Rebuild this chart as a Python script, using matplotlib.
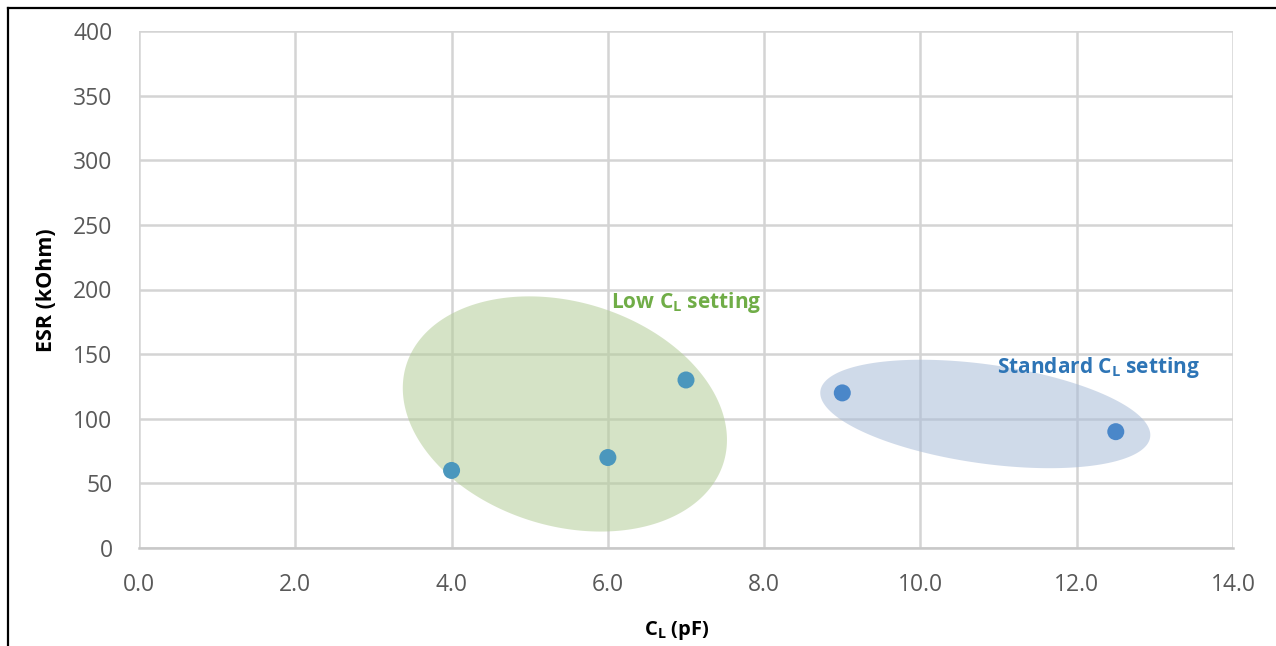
import numpy as np
import matplotlib
matplotlib.use("Agg")
import matplotlib.pyplot as plt
from matplotlib.patches import Polygon
from matplotlib.lines import Line2D

plt.rcParams['font.family'] = ['Open Sans', 'DejaVu Sans']
plt.rcParams['mathtext.fontset'] = 'custom'
plt.rcParams['mathtext.bf'] = 'Open Sans:bold'
plt.rcParams['mathtext.rm'] = 'Open Sans'

# ---- data ----
low_cl_x = [4.0, 6.0, 7.0]
low_cl_y = [60, 70, 130]
std_cl_x = [9.0, 12.5]
std_cl_y = [120, 90]
x_ticks = [0, 2, 4, 6, 8, 10, 12, 14]
y_ticks = [0, 50, 100, 150, 200, 250, 300, 350, 400]
x_label = r"C$_\mathbf{L}$ (pF)"
y_label = "ESR (kOhm)"
low_label = r"Low C$_\mathbf{L}$ setting"
std_label = r"Standard C$_\mathbf{L}$ setting"

W, H = 1276, 646
fig = plt.figure(figsize=(W / 100, H / 100), dpi=100)
left, right, bottom, top = 139 / W, 1233 / W, (H - 548) / H, (H - 31) / H
ax = fig.add_axes([left, bottom, right - left, top - bottom])
ax.set_xlim(0, 14)
ax.set_ylim(0, 400)
ax.set_xticks(x_ticks)
ax.set_yticks(y_ticks)
ax.set_xticklabels([f"{v:.1f}" for v in x_ticks])
ax.set_yticklabels([f"{v}" for v in y_ticks])
ax.tick_params(length=0, labelsize=16.5, colors='#595959')
ax.tick_params(axis='x', pad=18)
ax.tick_params(axis='y', pad=19)
ax.grid(True, color='#d4d4d4', linewidth=1.8, zorder=0)
ax.set_axisbelow(True)
for s in ['top', 'right', 'left']:
    ax.spines[s].set_visible(False)
ax.spines['bottom'].set_color('#c8c8c8')
ax.spines['bottom'].set_linewidth(1.8)

# pixel scale of data units
sx = (right - left) * W / 14.0
sy = (top - bottom) * H / 400.0


def ellipse_poly(cx, cy, a_px, b_px, angle_deg, **kw):
    t = np.linspace(0, 2 * np.pi, 300)
    th = np.deg2rad(angle_deg)
    ex = a_px * np.cos(t)
    ey = b_px * np.sin(t)
    px = ex * np.cos(th) - ey * np.sin(th)
    py = ex * np.sin(th) + ey * np.cos(th)
    pts = np.column_stack([cx + px / sx, cy + py / sy])
    return Polygon(pts, closed=True, **kw)


ax.add_patch(ellipse_poly(5.45, 103.7, 166, 112, -17, facecolor='#b4cd98',
                          alpha=0.55, edgecolor='none', zorder=2))
ax.add_patch(ellipse_poly(10.83, 103.7, 166.5, 49.5, -8, facecolor='#a9bcd8',
                          alpha=0.55, edgecolor='none', zorder=2))

ax.scatter(low_cl_x, low_cl_y, s=150, color='#4b97bd', edgecolors='none', zorder=3)
ax.scatter(std_cl_x, std_cl_y, s=150, color='#4a87c9', edgecolors='none', zorder=3)

ax.text(6.04, 186, low_label, color='#70ad47', fontsize=15, fontweight='bold',
        ha='left', va='baseline', zorder=4)
ax.text(10.98, 135.5, std_label, color='#2e75b6', fontsize=15, fontweight='bold',
        ha='left', va='baseline', zorder=4)

fig.text(46 / W, 1 - 290 / H, y_label, rotation=90, fontsize=15.5, fontweight='bold',
         ha='center', va='center', color='black')
fig.text(677 / W, 1 - 630 / H, x_label, fontsize=14.5, fontweight='bold',
         ha='center', va='center', color='black')

# outer frame (left and top edges visible)
fig.add_artist(Line2D([7.5 / W, 7.5 / W], [0, 1 - 7.5 / H], transform=fig.transFigure,
                      color='black', linewidth=1.6))
fig.add_artist(Line2D([7.5 / W, 1], [1 - 7.5 / H, 1 - 7.5 / H], transform=fig.transFigure,
                      color='black', linewidth=1.6))

fig.savefig('out.png', dpi=100)
